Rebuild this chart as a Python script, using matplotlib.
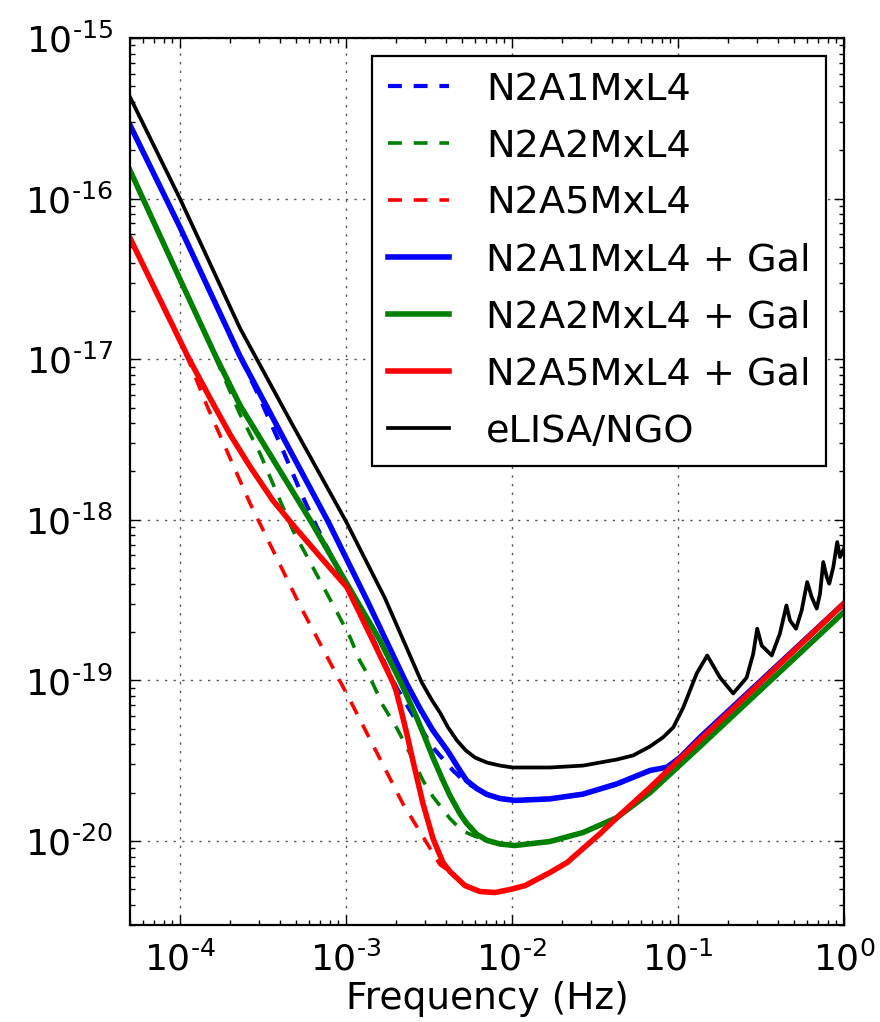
import math
import matplotlib
matplotlib.use("Agg")
import matplotlib.pyplot as plt
from matplotlib.ticker import FixedLocator, NullFormatter, FuncFormatter

# ---------------------------------------------------------------------------
# Sensitivity curves (characteristic strain vs frequency)
# ---------------------------------------------------------------------------
elisa_f = [5.0e-5, 1.0e-4, 2.3e-4, 4.6e-4, 1.0e-3, 1.72e-3, 2.86e-3, 3.30e-3,
           3.68e-3, 4.12e-3, 4.66e-3, 5.28e-3, 5.99e-3, 7.07e-3, 8.47e-3,
           1.01e-2, 1.69e-2, 2.68e-2, 4.29e-2, 5.36e-2, 6.78e-2, 8.12e-2,
           9.37e-2, 0.1076, 0.1296, 0.150, 0.179, 0.215, 0.259, 0.284, 0.300,
           0.319, 0.367, 0.411, 0.450, 0.473, 0.514, 0.556, 0.600, 0.639,
           0.685, 0.717, 0.750, 0.787, 0.815, 0.862, 0.910, 0.946, 1.0]
elisa_h = [4.29e-16, 1.0e-16, 1.56e-17, 4.17e-18, 9.79e-19, 3.24e-19, 9.72e-20,
           7.51e-20, 6.32e-20, 5.10e-20, 4.23e-20, 3.66e-20, 3.31e-20,
           3.08e-20, 2.95e-20, 2.87e-20, 2.87e-20, 2.95e-20, 3.22e-20,
           3.41e-20, 3.88e-20, 4.42e-20, 5.10e-20, 6.79e-20, 1.105e-19,
           1.43e-19, 1.044e-19, 8.30e-20, 1.04e-19, 1.47e-19, 2.10e-19,
           1.65e-19, 1.43e-19, 1.96e-19, 2.93e-19, 2.36e-19, 2.10e-19,
           2.73e-19, 4.10e-19, 3.30e-19, 2.80e-19, 3.47e-19, 5.46e-19,
           4.40e-19, 4.00e-19, 5.08e-19, 7.27e-19, 5.86e-19, 6.64e-19]

# N2A1MxL4 with galactic confusion noise
a1_gal_f = [5.0e-5, 1.0e-4, 2.3e-4, 4.6e-4, 7.79e-4, 1.34e-3, 2.3e-3, 2.79e-3,
            3.34e-3, 4.12e-3, 4.86e-3, 5.33e-3, 6.15e-3, 7.07e-3, 8.47e-3,
            1.04e-2, 1.69e-2, 2.68e-2, 4.29e-2, 6.78e-2, 8.58e-2, 0.1028,
            0.1357, 1.0]
a1_gal_h = [2.87e-16, 6.64e-17, 1.044e-17, 2.71e-18, 9.79e-19, 3.15e-19,
            9.72e-20, 6.69e-20, 4.88e-20, 3.61e-20, 2.75e-20, 2.38e-20,
            2.12e-20, 1.95e-20, 1.84e-20, 1.79e-20, 1.83e-20, 1.96e-20,
            2.27e-20, 2.75e-20, 2.88e-20, 3.31e-20, 4.42e-20, 3.02e-19]

# N2A1MxL4 instrument only
a1_f = [5.0e-5, 1.0e-4, 2.3e-4, 3.03e-4, 4.17e-4, 5.51e-4, 6.69e-4, 1.0e-3,
        1.45e-3, 2.03e-3, 2.6e-3, 3.34e-3, 4.41e-3, 5.28e-3, 6.15e-3, 7.07e-3,
        8.47e-3, 1.04e-2, 1.69e-2, 2.68e-2, 4.29e-2, 6.78e-2, 8.58e-2, 0.1028,
        0.1357, 1.0]
a1_h = [2.87e-16, 6.64e-17, 1.044e-17, 5.71e-18, 2.71e-18, 1.38e-18, 8.98e-19,
        3.91e-19, 1.83e-19, 8.92e-20, 5.80e-20, 3.82e-20, 2.75e-20, 2.31e-20,
        2.12e-20, 1.95e-20, 1.84e-20, 1.79e-20, 1.83e-20, 1.96e-20, 2.27e-20,
        2.75e-20, 2.88e-20, 3.31e-20, 4.42e-20, 3.02e-19]

# N2A2MxL4 with galactic confusion noise
a2_gal_f = [5.0e-5, 1.0e-4, 1.63e-4, 2.3e-4, 3.73e-4, 6.15e-4, 1.06e-3,
            1.60e-3, 2.14e-3, 2.68e-3, 2.99e-3, 3.34e-3, 3.84e-3, 4.23e-3,
            4.86e-3, 5.33e-3, 6.15e-3, 7.07e-3, 8.47e-3, 1.04e-2, 1.69e-2,
            2.68e-2, 4.29e-2, 6.78e-2, 0.1357, 1.0]
a2_gal_h = [1.5e-16, 3.15e-17, 1.06e-17, 5.17e-18, 2.28e-18, 9.79e-19,
            3.69e-19, 1.78e-19, 9.72e-20, 5.80e-20, 4.42e-20, 3.31e-20,
            2.38e-20, 1.92e-20, 1.48e-20, 1.29e-20, 1.10e-20, 1.01e-20,
            9.58e-21, 9.38e-21, 9.93e-21, 1.13e-20, 1.40e-20, 2.0e-20,
            3.88e-20, 2.67e-19]

# N2A2MxL4 instrument only
a2_f = [5.0e-5, 1.0e-4, 1.52e-4, 2.3e-4, 3.03e-4, 4.17e-4, 4.79e-4, 8.83e-4,
        1.06e-3, 1.21e-3, 1.45e-3, 1.67e-3, 2.03e-3, 2.43e-3, 2.91e-3, 3.34e-3,
        4.23e-3, 5.0e-3, 5.99e-3, 7.07e-3, 8.47e-3, 1.04e-2, 1.69e-2, 2.68e-2,
        4.29e-2, 6.78e-2, 0.1357, 1.0]
a2_h = [1.5e-16, 3.15e-17, 1.22e-17, 4.54e-18, 2.60e-18, 1.20e-18, 8.60e-19,
        2.66e-19, 1.85e-19, 1.33e-19, 9.58e-20, 6.99e-20, 5.02e-20, 3.51e-20,
        2.38e-20, 1.89e-20, 1.38e-20, 1.16e-20, 1.07e-20, 1.01e-20, 9.58e-21,
        9.38e-21, 9.93e-21, 1.13e-20, 1.40e-20, 2.0e-20, 3.88e-20, 2.67e-19]

# N2A5MxL4 with galactic confusion noise
a5_gal_f = [5.0e-5, 1.12e-4, 1.52e-4, 2.0e-4, 2.64e-4, 3.63e-4, 4.93e-4,
            6.97e-4, 1.014e-3, 1.27e-3, 1.54e-3, 1.92e-3, 2.0e-3, 2.12e-3,
            2.33e-3, 2.53e-3, 2.91e-3, 3.34e-3, 3.84e-3, 4.23e-3, 5.21e-3,
            6.41e-3, 7.90e-3, 9.72e-3, 1.20e-2, 1.69e-2, 2.15e-2, 2.68e-2,
            3.39e-2, 4.29e-2, 6.78e-2, 0.1, 1.0]
a5_gal_h = [5.68e-17, 1.03e-17, 5.71e-18, 3.41e-18, 2.15e-18, 1.32e-18,
            8.98e-19, 5.92e-19, 3.80e-19, 2.36e-19, 1.56e-19, 9.72e-20,
            8.66e-20, 6.89e-20, 4.61e-20, 3.17e-20, 1.71e-20, 1.04e-20,
            7.35e-21, 6.46e-21, 5.28e-21, 4.85e-21, 4.78e-21, 4.99e-21,
            5.28e-21, 6.36e-21, 7.35e-21, 8.98e-21, 1.11e-20, 1.40e-20,
            2.15e-20, 3.17e-20, 3.02e-19]

# N2A5MxL4 instrument only
a5_f = [5.0e-5, 1.12e-4, 1.45e-4, 2.64e-4, 5.28e-4, 1.06e-3, 2.2e-3, 3.68e-3,
        4.23e-3, 5.21e-3, 6.41e-3, 7.90e-3, 9.72e-3, 1.20e-2, 1.69e-2,
        2.15e-2, 2.68e-2, 3.39e-2, 4.29e-2, 6.78e-2, 0.1, 1.0]
a5_h = [5.68e-17, 1.0e-17, 5.17e-18, 1.27e-18, 2.93e-19, 7.51e-20, 1.71e-20,
        7.14e-21, 6.46e-21, 5.28e-21, 4.85e-21, 4.78e-21, 4.99e-21, 5.28e-21,
        6.36e-21, 7.35e-21, 8.98e-21, 1.11e-20, 1.40e-20, 2.15e-20, 3.17e-20,
        3.02e-19]

labels = ["N2A1MxL4", "N2A2MxL4", "N2A5MxL4",
          "N2A1MxL4 + Gal", "N2A2MxL4 + Gal", "N2A5MxL4 + Gal",
          "eLISA/NGO"]

x_ticks = [1e-4, 1e-3, 1e-2, 1e-1, 1e0]
y_ticks = [1e-20, 1e-19, 1e-18, 1e-17, 1e-16, 1e-15]
x_minor = [m * 10.0 ** e for e in range(-5, 0) for m in range(2, 10)]
y_minor = [m * 10.0 ** e for e in range(-21, -15) for m in range(2, 10)]

BLUE, GREEN, RED = (0, 0, 1), (0, 0.5, 0), (1, 0, 0)

plt.rcParams["axes.unicode_minus"] = False
plt.rcParams["lines.scale_dashes"] = False
plt.rcParams["font.family"] = ["DejaVu Sans"]
plt.rcParams["mathtext.fontset"] = "dejavusans"

fig = plt.figure(figsize=(8.8, 10.22), dpi=100)
ax = fig.add_axes([0.1477, 0.0949, 0.9591 - 0.1477, 0.9628 - 0.0949])

dash = (10, 8.5)
ax.loglog(a1_f, a1_h, color=BLUE, lw=3.0, dashes=dash, label=labels[0])
ax.loglog(a2_f, a2_h, color=GREEN, lw=2.6, dashes=dash, label=labels[1])
ax.loglog(a5_f, a5_h, color=RED, lw=2.6, dashes=dash, label=labels[2])
ax.loglog(a1_gal_f, a1_gal_h, color=BLUE, lw=4.0, label=labels[3])
ax.loglog(a2_gal_f, a2_gal_h, color=GREEN, lw=4.0, label=labels[4])
ax.loglog(a5_gal_f, a5_gal_h, color=RED, lw=4.0, label=labels[5])
ax.loglog(elisa_f, elisa_h, color="k", lw=2.7, label=labels[6])

ax.set_xlim(5e-5, 1.0)
ax.set_ylim(3e-21, 1e-15)


def pow10_label(v, _pos):
    e = int(round(math.log10(v)))
    return r"$10^{\text{%d}}$" % e


ax.xaxis.set_major_locator(FixedLocator(x_ticks))
ax.yaxis.set_major_locator(FixedLocator(y_ticks))
ax.xaxis.set_minor_locator(FixedLocator(x_minor))
ax.yaxis.set_minor_locator(FixedLocator(y_minor))
ax.xaxis.set_major_formatter(FuncFormatter(pow10_label))
ax.yaxis.set_major_formatter(FuncFormatter(pow10_label))
ax.xaxis.set_minor_formatter(NullFormatter())
ax.yaxis.set_minor_formatter(NullFormatter())

ax.grid(True, which="major", color="0.35", lw=1.0, linestyle=(0, (1.7, 4.5)))
ax.tick_params(which="both", direction="in", top=True, right=True,
               labelsize=26, width=1.0)
ax.tick_params(which="major", length=7, pad=12)
ax.tick_params(which="minor", length=3.5)
for sp in ax.spines.values():
    sp.set_linewidth(1.6)

ax.set_xlabel("Frequency (Hz)", fontsize=27, labelpad=2)

leg = ax.legend(loc="upper right", fontsize=27.5, frameon=True, fancybox=False,
                framealpha=1.0, edgecolor="k", borderaxespad=0.46,
                handlelength=1.6, handletextpad=0.95, labelspacing=0.55,
                borderpad=0.42)
leg.get_frame().set_linewidth(1.6)

fig.savefig("out.png", dpi=100)
